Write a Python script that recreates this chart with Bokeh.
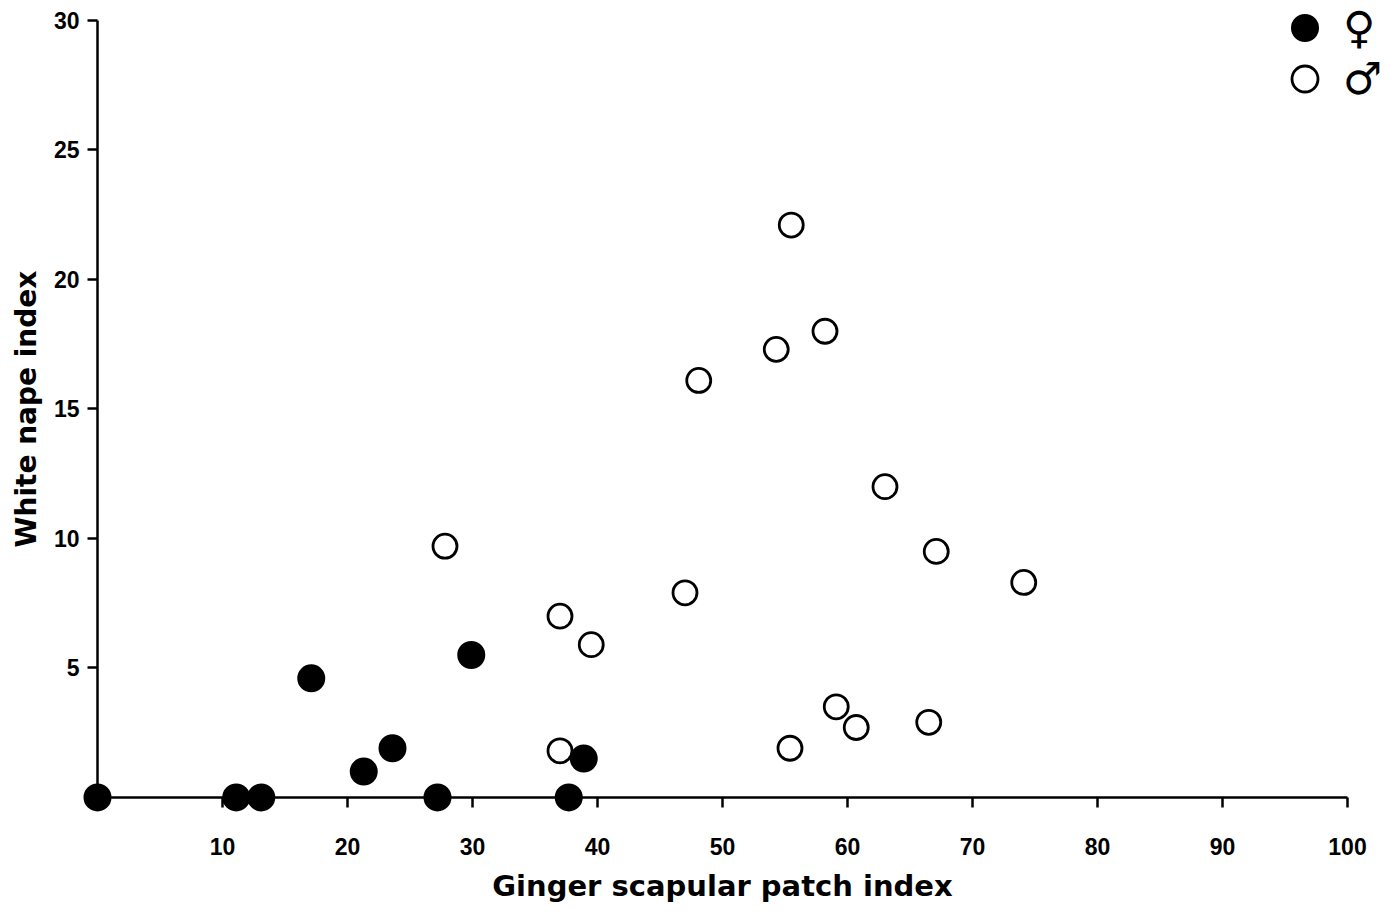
from bokeh.plotting import figure
from bokeh.models import FixedTicker, Legend, LegendItem, Range1d
from bokeh.embed import file_html
from bokeh.resources import INLINE

# Data
female_x = [0, 11.1, 13.1, 17.1, 21.3, 23.6, 27.2, 29.9, 37.7, 38.9]
female_y = [0, 0, 0, 4.6, 1.0, 1.9, 0, 5.5, 0, 1.5]

male_x = [27.8, 37.0, 37.0, 39.5, 47.0, 48.1, 54.3, 55.5, 55.4, 58.2, 59.1, 60.7, 63.0, 67.1, 66.5, 74.1]
male_y = [9.7, 7.0, 1.8, 5.9, 7.9, 16.1, 17.3, 22.1, 1.9, 18.0, 3.5, 2.7, 12.0, 9.5, 2.9, 8.3]

x_ticks = [10, 20, 30, 40, 50, 60, 70, 80, 90, 100]
y_ticks = [5, 10, 15, 20, 25, 30]

x_title = "Ginger scapular patch index"
y_title = "White nape index"
legend_labels = ["\u2640", "\u2642"]

TICK_FONT = "Liberation Sans"
TITLE_FONT = "DejaVu Sans"

p = figure(width=1390, height=921, output_backend="svg", toolbar_location=None,
           x_range=Range1d(-7.76, 103.44), y_range=Range1d(-4.79, 30.77),
           min_border=0)
p.outline_line_color = None
p.grid.visible = False
p.background_fill_color = "white"
p.border_fill_color = "white"

for ax, ticks, bounds in ((p.xaxis[0], x_ticks, (0, 100)), (p.yaxis[0], y_ticks, (0, 30))):
    ax.fixed_location = 0
    ax.ticker = FixedTicker(ticks=ticks)
    ax.bounds = bounds
    ax.axis_line_width = 2.5
    ax.axis_line_color = "black"
    ax.major_tick_line_width = 2.5
    ax.major_tick_line_color = "black"
    ax.major_tick_in = 0
    ax.major_tick_out = 10
    ax.minor_tick_line_color = None
    ax.major_label_text_font = TICK_FONT
    ax.major_label_text_font_style = "bold"
    ax.major_label_text_font_size = "23px"
    ax.major_label_text_color = "black"
    ax.axis_label_text_font = TITLE_FONT
    ax.axis_label_text_font_style = "bold"
    ax.axis_label_text_font_size = "29px"
    ax.axis_label_text_color = "black"

p.xaxis.axis_label = x_title
p.yaxis.axis_label = y_title
p.yaxis.axis_label_text_font_size = "28px"
p.xaxis.major_label_standoff = 31
p.xaxis.axis_label_standoff = 10
p.yaxis.major_label_standoff = 8
p.yaxis.axis_label_standoff = 8

rf = p.scatter(female_x, female_y, size=26, marker="circle",
               fill_color="black", line_color="black", line_width=2)
rm = p.scatter(male_x, male_y, size=24, marker="circle",
               fill_color="white", line_color="black", line_width=2.8)

def make_legend(label, renderer, loc):
    lg = Legend(items=[LegendItem(label=label, renderers=[renderer])], location=loc)
    lg.label_text_font = "DejaVu Sans"
    lg.label_text_font_size = "44px"
    lg.label_text_color = "black"
    lg.background_fill_alpha = 0
    lg.border_line_color = None
    lg.glyph_width = 65
    lg.glyph_height = 65
    lg.label_standoff = 6
    lg.padding = 0
    lg.margin = 0
    return lg

p.add_layout(make_legend(legend_labels[0], rf, (1272, 861)))
p.add_layout(make_legend(legend_labels[1], rm, (1272, 810)))

open("out.html", "w").write(file_html(p, INLINE))
